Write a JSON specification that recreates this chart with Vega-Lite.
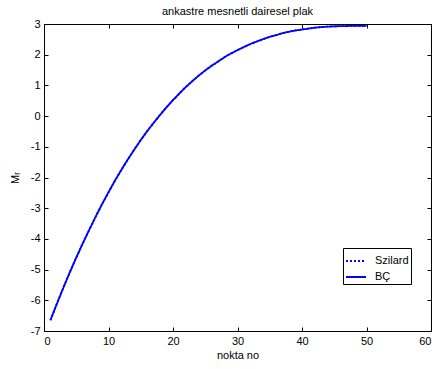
{
  "$schema": "https://vega.github.io/schema/vega-lite/v6.json",
  "width": 387,
  "height": 307,
  "autosize": "none",
  "padding": {"left": 44, "top": 24, "right": 5, "bottom": 38},
  "background": "white",
  "title": {"text": "ankastre mesnetli dairesel plak", "fontSize": 11, "fontWeight": "normal", "font": "Liberation Sans", "offset": 1, "color": "black"},
  "config": {
    "view": {"stroke": null},
    "axis": {
      "labelFont": "Liberation Sans", "labelFontSize": 11, "labelColor": "black",
      "titleFont": "Liberation Sans", "titleFontSize": 11, "titleFontWeight": "normal", "titleColor": "black",
      "domainColor": "black", "domainWidth": 1, "tickColor": "black", "tickSize": -4, "grid": false, "labelPadding": 8,
      "labelExpr": "'' + datum.value"
    },
    "legend": {
      "labelFont": "Liberation Sans", "labelFontSize": 11, "labelColor": "black"
    }
  },
  "data": {"values": [
    {"x":1,"y":-6.65,"s":"Szilard"},{"x":2,"y":-6.11,"s":"Szilard"},{"x":3,"y":-5.59,"s":"Szilard"},{"x":4,"y":-5.09,"s":"Szilard"},{"x":5,"y":-4.61,"s":"Szilard"},
    {"x":6,"y":-4.15,"s":"Szilard"},{"x":7,"y":-3.71,"s":"Szilard"},{"x":8,"y":-3.28,"s":"Szilard"},{"x":9,"y":-2.87,"s":"Szilard"},{"x":10,"y":-2.48,"s":"Szilard"},
    {"x":11,"y":-2.10,"s":"Szilard"},{"x":12,"y":-1.75,"s":"Szilard"},{"x":13,"y":-1.41,"s":"Szilard"},{"x":14,"y":-1.09,"s":"Szilard"},{"x":15,"y":-0.78,"s":"Szilard"},
    {"x":16,"y":-0.49,"s":"Szilard"},{"x":17,"y":-0.22,"s":"Szilard"},{"x":18,"y":0.04,"s":"Szilard"},{"x":19,"y":0.29,"s":"Szilard"},{"x":20,"y":0.52,"s":"Szilard"},
    {"x":21,"y":0.74,"s":"Szilard"},{"x":22,"y":0.95,"s":"Szilard"},{"x":23,"y":1.14,"s":"Szilard"},{"x":24,"y":1.32,"s":"Szilard"},{"x":25,"y":1.49,"s":"Szilard"},
    {"x":26,"y":1.64,"s":"Szilard"},{"x":27,"y":1.78,"s":"Szilard"},{"x":28,"y":1.92,"s":"Szilard"},{"x":29,"y":2.04,"s":"Szilard"},{"x":30,"y":2.15,"s":"Szilard"},
    {"x":31,"y":2.25,"s":"Szilard"},{"x":32,"y":2.35,"s":"Szilard"},{"x":33,"y":2.43,"s":"Szilard"},{"x":34,"y":2.51,"s":"Szilard"},{"x":35,"y":2.58,"s":"Szilard"},
    {"x":36,"y":2.64,"s":"Szilard"},{"x":37,"y":2.70,"s":"Szilard"},{"x":38,"y":2.75,"s":"Szilard"},{"x":39,"y":2.79,"s":"Szilard"},{"x":40,"y":2.82,"s":"Szilard"},
    {"x":41,"y":2.85,"s":"Szilard"},{"x":42,"y":2.88,"s":"Szilard"},{"x":43,"y":2.90,"s":"Szilard"},{"x":44,"y":2.915,"s":"Szilard"},{"x":45,"y":2.925,"s":"Szilard"},
    {"x":46,"y":2.93,"s":"Szilard"},{"x":47,"y":2.935,"s":"Szilard"},{"x":48,"y":2.938,"s":"Szilard"},{"x":49,"y":2.94,"s":"Szilard"},{"x":50,"y":2.94,"s":"Szilard"},
    {"x":1,"y":-6.65,"s":"BÇ"},{"x":2,"y":-6.11,"s":"BÇ"},{"x":3,"y":-5.59,"s":"BÇ"},{"x":4,"y":-5.09,"s":"BÇ"},{"x":5,"y":-4.61,"s":"BÇ"},
    {"x":6,"y":-4.15,"s":"BÇ"},{"x":7,"y":-3.71,"s":"BÇ"},{"x":8,"y":-3.28,"s":"BÇ"},{"x":9,"y":-2.87,"s":"BÇ"},{"x":10,"y":-2.48,"s":"BÇ"},
    {"x":11,"y":-2.10,"s":"BÇ"},{"x":12,"y":-1.75,"s":"BÇ"},{"x":13,"y":-1.41,"s":"BÇ"},{"x":14,"y":-1.09,"s":"BÇ"},{"x":15,"y":-0.78,"s":"BÇ"},
    {"x":16,"y":-0.49,"s":"BÇ"},{"x":17,"y":-0.22,"s":"BÇ"},{"x":18,"y":0.04,"s":"BÇ"},{"x":19,"y":0.29,"s":"BÇ"},{"x":20,"y":0.52,"s":"BÇ"},
    {"x":21,"y":0.74,"s":"BÇ"},{"x":22,"y":0.95,"s":"BÇ"},{"x":23,"y":1.14,"s":"BÇ"},{"x":24,"y":1.32,"s":"BÇ"},{"x":25,"y":1.49,"s":"BÇ"},
    {"x":26,"y":1.64,"s":"BÇ"},{"x":27,"y":1.78,"s":"BÇ"},{"x":28,"y":1.92,"s":"BÇ"},{"x":29,"y":2.04,"s":"BÇ"},{"x":30,"y":2.15,"s":"BÇ"},
    {"x":31,"y":2.25,"s":"BÇ"},{"x":32,"y":2.35,"s":"BÇ"},{"x":33,"y":2.43,"s":"BÇ"},{"x":34,"y":2.51,"s":"BÇ"},{"x":35,"y":2.58,"s":"BÇ"},
    {"x":36,"y":2.64,"s":"BÇ"},{"x":37,"y":2.70,"s":"BÇ"},{"x":38,"y":2.75,"s":"BÇ"},{"x":39,"y":2.79,"s":"BÇ"},{"x":40,"y":2.82,"s":"BÇ"},
    {"x":41,"y":2.85,"s":"BÇ"},{"x":42,"y":2.88,"s":"BÇ"},{"x":43,"y":2.90,"s":"BÇ"},{"x":44,"y":2.915,"s":"BÇ"},{"x":45,"y":2.925,"s":"BÇ"},
    {"x":46,"y":2.93,"s":"BÇ"},{"x":47,"y":2.935,"s":"BÇ"},{"x":48,"y":2.938,"s":"BÇ"},{"x":49,"y":2.94,"s":"BÇ"},{"x":50,"y":2.94,"s":"BÇ"}
  ]},
  "layer": [
    {
      "mark": {"type": "line", "strokeWidth": 1.8},
      "encoding": {
        "x": {"field": "x", "type": "quantitative", "scale": {"domain": [0, 60], "nice": false}, "axis": {"orient": "bottom", "title": "nokta no", "values": [0,10,20,30,40,50,60], "titlePadding": 3}},
        "y": {"field": "y", "type": "quantitative", "scale": {"domain": [-7, 3], "nice": false, "zero": false}, "axis": {"orient": "left", "title": "Mᵣ", "values": [-7,-6,-5,-4,-3,-2,-1,0,1,2,3], "titlePadding": 10}},
        "color": {"field": "s", "type": "nominal", "scale": {"domain": ["Szilard", "BÇ"], "range": ["#0000ff", "#0000ff"]},
          "legend": {"title": null, "orient": "none", "legendX": 299, "legendY": 224, "symbolType": "stroke", "symbolSize": 400, "symbolStrokeWidth": 1.8, "strokeColor": "black", "fillColor": "white", "padding": 2, "rowPadding": -4, "labelOffset": 8, "cornerRadius": 0}},
        "strokeDash": {"field": "s", "type": "nominal", "scale": {"domain": ["Szilard", "BÇ"], "range": [[2, 2], [1, 0]]},
          "legend": {"title": null, "orient": "none", "legendX": 299, "legendY": 224, "symbolType": "stroke", "symbolSize": 400, "symbolStrokeWidth": 1.8, "strokeColor": "black", "fillColor": "white", "padding": 2, "rowPadding": -4, "labelOffset": 8, "cornerRadius": 0}}
      }
    },
    {
      "mark": {"type": "line", "opacity": 0},
      "encoding": {
        "x": {"field": "x", "type": "quantitative", "axis": {"orient": "top", "labels": false, "title": null, "values": [0,10,20,30,40,50,60]}},
        "y": {"field": "y", "type": "quantitative", "axis": {"orient": "right", "labels": false, "title": null, "values": [-7,-6,-5,-4,-3,-2,-1,0,1,2,3]}}
      }
    }
  ],
  "resolve": {"axis": {"x": "independent", "y": "independent"}}
}
